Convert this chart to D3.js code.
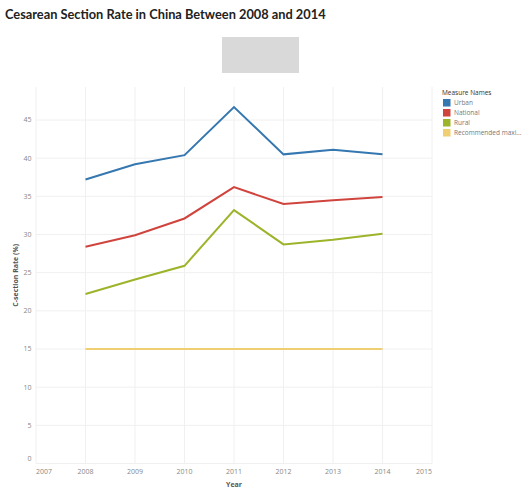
<!DOCTYPE html>
<html>
<head>
<meta charset="utf-8">
<script src="https://cdn.jsdelivr.net/npm/d3@7"></script>
<style>
  body { margin: 0; background: #fff; }
  svg { display: block; font-family: "Open Sans", "Lato", sans-serif; }
</style>
</head>
<body>
<svg id="chart"></svg>
<script>
var years = [2008, 2009, 2010, 2011, 2012, 2013, 2014]
var seriesNames = ["Urban", "National", "Rural", "Recommended maxi..."]
var urban = [37.2, 39.2, 40.4, 46.7, 40.5, 41.1, 40.5]
var national = [28.4, 29.9, 32.1, 36.2, 34.0, 34.5, 34.9]
var rural = [22.2, 24.1, 25.9, 33.2, 28.7, 29.3, 30.1]
var recommended = [15, 15, 15, 15, 15, 15, 15]
var colors = ["#3577b0", "#d0443e", "#9cb42a", "#f0cf73"]
var xTicks = [2007, 2008, 2009, 2010, 2011, 2012, 2013, 2014, 2015]
var yTicks = [0, 5, 10, 15, 20, 25, 30, 35, 40, 45]

var dimensions = {
    width: 529,
    height: 491,
    margin: { top: 87, bottom: 27.5, right: 97, left: 36 }
}

var svg = d3.select("#chart")
    .attr("width", dimensions.width)
    .attr("height", dimensions.height)

var allSeries = [urban, national, rural, recommended]

var xScale = d3.scaleLinear()
    .domain([2007, 2015])
    .range([dimensions.margin.left, dimensions.width - dimensions.margin.right])

var yScale = d3.scaleLinear()
    .domain([0, 45])
    .range([dimensions.height - dimensions.margin.bottom, 120])

var plotTop = dimensions.margin.top
var plotBottom = yScale(0)

// title
svg.append("text")
    .attr("x", 5)
    .attr("y", 19)
    .attr("font-family", "Lato, sans-serif")
    .attr("font-size", 12.8)
    .attr("font-weight", "bold")
    .attr("fill", "#222")
    .text("Cesarean Section Rate in China Between 2008 and 2014")

// grey placeholder box
svg.append("rect")
    .attr("x", 222).attr("y", 37)
    .attr("width", 77).attr("height", 36)
    .attr("fill", "#d9d9d9")

// gridlines
svg.append("g")
    .selectAll("line")
    .data(xTicks)
    .enter()
    .append("line")
    .attr("x1", d => xScale(d))
    .attr("x2", d => xScale(d))
    .attr("y1", plotTop)
    .attr("y2", plotBottom)
    .attr("stroke", "#f0f0f0")
    .attr("stroke-width", 1)

svg.append("g")
    .selectAll("line")
    .data(yTicks)
    .enter()
    .append("line")
    .attr("x1", xScale(2007))
    .attr("x2", xScale(2015))
    .attr("y1", d => yScale(d))
    .attr("y2", d => yScale(d))
    .attr("stroke", "#f0f0f0")
    .attr("stroke-width", 1)

// y axis labels
svg.append("g")
    .selectAll("text")
    .data(yTicks)
    .enter()
    .append("text")
    .attr("x", 31.5)
    .attr("y", d => d == 0 ? yScale(d) - 4.5 : yScale(d))
    .attr("dy", "0.35em")
    .attr("text-anchor", "end")
    .attr("font-size", 7)
    .attr("fill", "#888")
    .text(d => d)

// x axis labels
svg.append("g")
    .selectAll("text")
    .data(xTicks)
    .enter()
    .append("text")
    .attr("x", d => xScale(d))
    .attr("y", 474)
    .attr("text-anchor", (d, i) => i == 0 ? "start" : (i == xTicks.length - 1 ? "end" : "middle"))
    .attr("font-size", 7)
    .attr("fill", "#888")
    .text(d => d)

// axis titles
svg.append("text")
    .attr("x", xScale(2011))
    .attr("y", 487)
    .attr("text-anchor", "middle")
    .attr("font-size", 7)
    .attr("font-weight", "bold")
    .attr("fill", "#555")
    .text("Year")

svg.append("text")
    .attr("transform", "translate(18," + ((plotTop + plotBottom) / 2) + ") rotate(-90)")
    .attr("text-anchor", "middle")
    .attr("font-size", 7)
    .attr("font-weight", "bold")
    .attr("fill", "#555")
    .text("C-section Rate (%)")

// lines
var line = d3.line()
    .x((d, i) => xScale(years[i]))
    .y(d => yScale(d))

svg.append("g")
    .selectAll("path")
    .data(allSeries.slice().reverse())
    .enter()
    .append("path")
    .attr("d", d => line(d))
    .attr("fill", "none")
    .attr("stroke", (d, i) => colors[allSeries.length - 1 - i])
    .attr("stroke-width", 2)
    .attr("stroke-linejoin", "miter")

// legend
var legend = svg.append("g").attr("transform", "translate(442,0)")

legend.append("text")
    .attr("x", 0)
    .attr("y", 92.5)
    .attr("dy", "0.35em")
    .attr("font-size", 6.5)
    .attr("fill", "#333")
    .text("Measure Names")

var rows = legend.selectAll("g.row")
    .data(seriesNames)
    .enter()
    .append("g")
    .attr("class", "row")
    .attr("transform", (d, i) => "translate(0," + (102.5 + i * 10) + ")")

rows.append("rect")
    .attr("x", 1)
    .attr("y", -3.5)
    .attr("width", 7.5)
    .attr("height", 7.5)
    .attr("fill", (d, i) => colors[i])

rows.append("text")
    .attr("x", 12)
    .attr("dy", "0.35em")
    .attr("font-size", 6.5)
    .attr("fill", "#777")
    .text(d => d)
</script>
</body>
</html>
